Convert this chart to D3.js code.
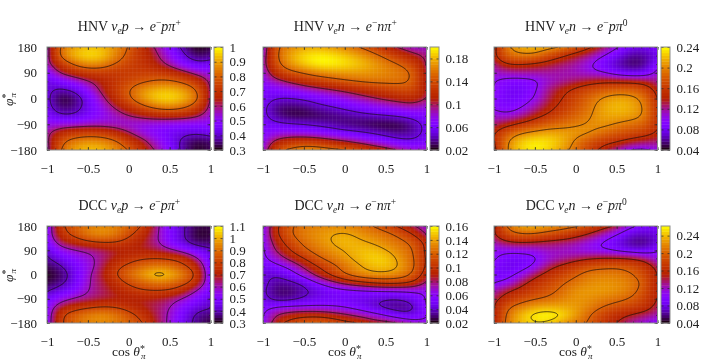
<!DOCTYPE html>
<html>
<head>
<meta charset="utf-8">
<script src="https://cdn.jsdelivr.net/npm/d3@7"></script>
<style>
	html, body { margin: 0; padding: 0; background: #fff; }
	#plot { position: relative; width: 720px; height: 360px; overflow: hidden; }
	canvas, svg { position: absolute; left: 0; top: 0; }
	text { font-family: "Liberation Serif", serif; fill: #222; }
</style>
</head>
<body>
<div id="plot">
	<canvas id="maps" width="720" height="360"></canvas>
	<svg id="over" width="720" height="360"></svg>
</div>
<script>

// grid of the values
const cos_theta = [ -1, -5/6, -4/6, -3/6, -2/6, -1/6, 0, 1/6, 2/6, 3/6, 4/6, 5/6, 1 ];
const phi_pi = [ 180, 150, 120, 90, 60, 30, 0, -30, -60, -90, -120, -150, -180 ];

const hnv_p_piplus = [
	[ .56, .83, .90, .94, .93, .87, .80, .68, .59, .48, .37, .30, .33 ],
	[ .56, .85, .94, .98, .96, .87, .77, .70, .62, .52, .41, .33, .36 ],
	[ .57, .70, .82, .88, .87, .79, .74, .70, .65, .57, .48, .42, .44 ],
	[ .48, .62, .68, .72, .72, .71, .72, .73, .73, .70, .64, .56, .52 ],
	[ .42, .46, .52, .59, .65, .71, .75, .78, .81, .82, .78, .71, .58 ],
	[ .42, .38, .41, .50, .63, .72, .80, .88, .93, .94, .90, .81, .60 ],
	[ .42, .31, .34, .43, .57, .69, .79, .89, .96, .98, .94, .85, .60 ],
	[ .43, .34, .36, .43, .52, .61, .69, .77, .84, .87, .83, .74, .57 ],
	[ .46, .40, .40, .45, .50, .55, .595, .63, .66, .67, .66, .62, .54 ],
	[ .52, .53, .54, .55, .55, .54, .53, .52, .51, .50, .49, .49, .50 ],
	[ .58, .68, .72, .74, .73, .68, .60, .52, .48, .44, .42, .41, .44 ],
	[ .58, .78, .86, .89, .88, .83, .73, .64, .54, .46, .37, .32, .34 ],
	[ .56, .82, .90, .94, .93, .87, .80, .68, .59, .48, .37, .31, .34 ]
];

const hnv_n_piplus = [
	[ .08, .15, .165, .175, .178, .172, .163, .151, .135, .115, .096, .082, .085 ],
	[ .085, .152, .177, .193, .199, .196, .187, .175, .161, .144, .125, .107, .095 ],
	[ .09, .145, .172, .188, .2, .2, .195, .187, .176, .163, .152, .135, .098 ],
	[ .08, .125, .142, .153, .165, .170, .172, .172, .170, .165, .160, .152, .103 ],
	[ .075, .09, .105, .118, .128, .138, .147, .154, .158, .158, .157, .150, .105 ],
	[ .06, .065, .072, .082, .09, .097, .105, .114, .122, .13, .137, .14, .105 ],
	[ .06, .05, .048, .052, .06, .068, .078, .088, .097, .105, .112, .118, .10 ],
	[ .055, .033, .031, .033, .043, .048, .055, .063, .07, .077, .083, .088, .08 ],
	[ .055, .036, .026, .025, .028, .032, .036, .041, .045, .048, .052, .059, .065 ],
	[ .06, .055, .052, .05, .045, .04, .034, .03, .025, .023, .025, .036, .056 ],
	[ .065, .075, .075, .072, .068, .062, .056, .052, .047, .04, .035, .04, .055 ],
	[ .075, .11, .125, .13, .125, .113, .102, .09, .078, .066, .055, .051, .06 ],
	[ .08, .14, .156, .168, .166, .158, .151, .14, .125, .113, .096, .082, .085 ]
];

const hnv_n_pizero = [
	[ .14, .20, .215, .22, .21, .197, .178, .155, .13, .103, .08, .075, .09 ],
	[ .145, .19, .198, .197, .172, .153, .135, .122, .10, .08, .058, .06, .075 ],
	[ .125, .151, .15, .143, .135, .125, .118, .102, .08, .065, .05, .053, .09 ],
	[ .11, .115, .118, .118, .118, .115, .112, .105, .10, .082, .072, .075, .108 ],
	[ .10, .09, .088, .093, .11, .118, .128, .137, .145, .145, .145, .14, .12 ],
	[ .10, .08, .08, .095, .125, .143, .158, .172, .18, .185, .185, .175, .14 ],
	[ .095, .08, .085, .10, .13, .15, .168, .187, .205, .215, .212, .195, .15 ],
	[ .095, .085, .097, .118, .14, .158, .175, .193, .213, .222, .217, .202, .155 ],
	[ .11, .105, .118, .138, .155, .17, .185, .198, .212, .215, .212, .202, .155 ],
	[ .125, .14, .155, .17, .183, .19, .197, .203, .207, .198, .19, .185, .153 ],
	[ .15, .18, .2, .208, .215, .212, .21, .205, .19, .18, .172, .165, .148 ],
	[ .15, .203, .228, .238, .233, .22, .195, .175, .16, .153, .14, .13, .125 ],
	[ .14, .205, .228, .238, .228, .21, .19, .165, .14, .12, .097, .095, .105 ]
];

const dcc_p_piplus = [
	[ .50, .79, .86, .92, .95, .93, .88, .80, .63, .49, .41, .33, .34 ],
	[ .52, .76, .84, .94, .97, .94, .83, .74, .62, .50, .41, .31, .33 ],
	[ .49, .67, .72, .78, .81, .80, .75, .69, .62, .50, .41, .34, .35 ],
	[ .42, .55, .59, .61, .64, .68, .70, .69, .67, .62, .55, .46, .42 ],
	[ .39, .45, .52, .57, .63, .70, .75, .785, .80, .79, .75, .62, .45 ],
	[ .34, .385, .47, .55, .65, .77, .83, .90, .93, .92, .83, .73, .48 ],
	[ .31, .34, .44, .58, .68, .80, .90, .98, 1.065, 1.03, .94, .79, .50 ],
	[ .33, .37, .45, .595, .66, .74, .82, .88, .92, .91, .85, .74, .50 ],
	[ .39, .44, .50, .60, .65, .70, .75, .79, .80, .79, .72, .59, .47 ],
	[ .46, .55, .61, .63, .66, .68, .69, .69, .68, .65, .59, .50, .43 ],
	[ .51, .68, .73, .77, .80, .79, .74, .69, .65, .61, .50, .44, .41 ],
	[ .52, .79, .88, .94, .97, .93, .85, .76, .66, .59, .47, .37, .36 ],
	[ .52, .80, .88, .93, .95, .92, .88, .81, .68, .58, .45, .37, .33 ]
];

const dcc_n_piplus = [
	[ .06, .099, .118, .127, .131, .133, .132, .128, .121, .11, .097, .082, .068 ],
	[ .062, .10, .12, .13, .136, .14, .143, .137, .131, .126, .116, .10, .078 ],
	[ .06, .09, .11, .125, .133, .141, .147, .143, .139, .132, .126, .117, .095 ],
	[ .058, .083, .10, .117, .128, .135, .141, .146, .148, .141, .131, .122, .096 ],
	[ .056, .07, .086, .10, .117, .128, .137, .145, .152, .151, .137, .123, .098 ],
	[ .05, .054, .065, .083, .10, .113, .127, .138, .146, .149, .141, .124, .098 ],
	[ .042, .041, .05, .068, .087, .105, .122, .133, .138, .138, .133, .12, .09 ],
	[ .045, .033, .036, .042, .06, .073, .086, .096, .103, .107, .107, .10, .078 ],
	[ .042, .029, .029, .036, .042, .05, .053, .055, .057, .059, .060, .062, .062 ],
	[ .045, .031, .033, .04, .047, .049, .049, .046, .044, .04, .04, .047, .062 ],
	[ .053, .06, .062, .062, .061, .06, .057, .05, .041, .033, .029, .034, .06 ],
	[ .06, .082, .09, .094, .095, .09, .083, .076, .068, .058, .047, .042, .058 ],
	[ .06, .092, .108, .118, .12, .115, .105, .10, .09, .086, .079, .07, .065 ]
];

const dcc_n_pizero = [
	[ .145, .21, .23, .235, .225, .215, .205, .185, .165, .145, .105, .09, .09 ],
	[ .15, .19, .203, .202, .188, .18, .165, .148, .125, .10, .075, .07, .08 ],
	[ .125, .148, .152, .147, .14, .135, .128, .112, .095, .08, .06, .053, .075 ],
	[ .107, .105, .107, .11, .122, .118, .112, .103, .10, .09, .08, .075, .10 ],
	[ .103, .088, .087, .093, .115, .125, .135, .147, .152, .153, .152, .138, .11 ],
	[ .095, .08, .085, .102, .14, .157, .175, .19, .195, .198, .19, .175, .14 ],
	[ .09, .087, .108, .14, .163, .18, .197, .213, .215, .215, .205, .185, .15 ],
	[ .095, .105, .14, .165, .182, .197, .21, .22, .225, .222, .215, .197, .152 ],
	[ .125, .148, .162, .178, .192, .205, .225, .228, .228, .224, .213, .19, .152 ],
	[ .14, .165, .185, .196, .203, .215, .225, .222, .215, .208, .20, .18, .15 ],
	[ .15, .198, .215, .232, .235, .233, .228, .217, .20, .19, .18, .17, .14 ],
	[ .15, .21, .243, .26, .266, .255, .23, .20, .18, .16, .148, .138, .125 ],
	[ .15, .215, .24, .25, .247, .23, .21, .198, .17, .15, .13, .115, .10 ]
];

const x_ticks = [ -1, -0.5, 0, 0.5, 1 ];
const y_ticks = [ 180, 90, 0, -90, -180 ];

const nu = [ "ν", "it" ], sub_e = [ "e", "sub" ], arrow = [ " → ", "" ], ele = [ "e", "it" ], minus = [ "−", "sup" ];
const pp = [ "p", "it" ], nn = [ "n", "it" ], pi = [ "π", "it" ], plus = [ "+", "sup" ], zero = [ "0", "sup" ];

const panels = [
	{ grid: hnv_p_piplus, col: 0, row: 0, z: [ 0.3, 1 ], bar_ticks: [ 0.3, 0.4, 0.5, 0.6, 0.7, 0.8, 0.9, 1 ], levels: [ 0.4, 0.6, 0.8 ],
		title: [ [ "HNV ", "" ], nu, sub_e, pp, arrow, ele, minus, pp, pi, plus ] },
	{ grid: hnv_n_piplus, col: 1, row: 0, z: [ 0.02, 0.2 ], bar_ticks: [ 0.02, 0.06, 0.1, 0.14, 0.18 ], levels: [ 0.05, 0.1, 0.15 ],
		title: [ [ "HNV ", "" ], nu, sub_e, nn, arrow, ele, minus, nn, pi, plus ] },
	{ grid: hnv_n_pizero, col: 2, row: 0, z: [ 0.04, 0.24 ], bar_ticks: [ 0.04, 0.08, 0.12, 0.16, 0.2, 0.24 ], levels: [ 0.1, 0.15, 0.2 ],
		title: [ [ "HNV ", "" ], nu, sub_e, nn, arrow, ele, minus, pp, pi, zero ] },
	{ grid: dcc_p_piplus, col: 0, row: 1, z: [ 0.3, 1.1 ], bar_ticks: [ 0.3, 0.4, 0.5, 0.6, 0.7, 0.8, 0.9, 1, 1.1 ], levels: [ 0.4, 0.6, 0.8, 1 ],
		title: [ [ "DCC ", "" ], nu, sub_e, pp, arrow, ele, minus, pp, pi, plus ] },
	{ grid: dcc_n_piplus, col: 1, row: 1, z: [ 0.02, 0.16 ], bar_ticks: [ 0.02, 0.04, 0.06, 0.08, 0.1, 0.12, 0.14, 0.16 ], levels: [ 0.04, 0.06, 0.08, 0.1, 0.12, 0.14 ],
		title: [ [ "DCC ", "" ], nu, sub_e, nn, arrow, ele, minus, nn, pi, plus ] },
	{ grid: dcc_n_pizero, col: 2, row: 1, z: [ 0.04, 0.262 ], bar_ticks: [ 0.04, 0.08, 0.12, 0.16, 0.2, 0.24 ], levels: [ 0.1, 0.15, 0.2, 0.25 ],
		title: [ [ "DCC ", "" ], nu, sub_e, nn, arrow, ele, minus, pp, pi, zero ] }
];

///////////////////////////////////////////////////////////////////////

const col_left = [ 47, 263, 494 ];
const row_top = [ 47, 226 ];
const row_height = [ 103, 97 ];
const map_width = 163.5;
const tick_font = 13;

const svg = d3.select( "#over" );
const ctx = document.getElementById( "maps" ).getContext( "2d" );

function palette( t )	{

	// gnuplot rgbformulae 7,5,15
	t = Math.max( 0, Math.min( 1, t ) );
	let r = Math.sqrt( t );
	let g = t * t * t;
	let b = Math.max( 0, Math.sin( 2 * Math.PI * t ) );
	return( d3.rgb( 255 * r, 255 * g, 255 * b ).formatRgb() );
}

// cubic b-spline, steadier than a spline through every hand read value
function spline( a, b, c, d, t )	{
	let s = 1 - t;
	return( ( s * s * s * a + ( 3 * t * t * t - 6 * t * t + 4 ) * b + ( -3 * t * t * t + 3 * t * t + 3 * t + 1 ) * c + t * t * t * d ) / 6 );
}

function pick( list, k )	{
	let n = list.length - 1;
	if( k < 0 ) return( 2 * list[ 0 ] - list[ 1 ] );
	if( k > n ) return( 2 * list[ n ] - list[ n - 1 ] );
	return( list[ k ] );
}

// smooth shading between the grid values, like pm3d interpolate
function shade( grid, c, phi )	{

	let u = Math.max( 0, Math.min( 11.9999, ( c + 1 ) * 6 ) );
	let v = Math.max( 0, Math.min( 11.9999, ( 180 - phi ) / 30 ) );
	let i = Math.floor( u ), j = Math.floor( v );
	let column = [ -1, 0, 1, 2 ].map( di => grid.map( line => pick( line, i + di ) ) );
	let rows = column.map( list => spline( pick( list, j - 1 ), pick( list, j ), pick( list, j + 1 ), pick( list, j + 2 ), v - j ) );
	return( spline( rows[ 0 ], rows[ 1 ], rows[ 2 ], rows[ 3 ], u - i ) );
}

function label_format( d )	{
	return( String( d ).replace( "-", "\u2212" ) );
}

function add_ticks( g, axis_fn, scale, values, size, tx, ty )	{

	let axis = axis_fn( scale ).tickValues( values ).tickSize( size ).tickFormat( "" );
	let a = g.append( "g" ).attr( "transform", "translate(" + tx + "," + ty + ")" ).call( axis );
	a.select( ".domain" ).remove();
	a.selectAll( "line" ).attr( "stroke", "#222" ).attr( "stroke-width", 0.7 );
}

function draw_title( g, cx, y, parts )	{

	let t = g.append( "text" ).attr( "x", cx ).attr( "y", y ).attr( "text-anchor", "middle" ).attr( "font-size", 14 );
	let shift = 0;
	parts.forEach( p => {
		let s = t.append( "tspan" ).text( p[ 0 ] );
		let want = p[ 1 ] == "sub" ? 3 : p[ 1 ] == "sup" ? -5 : 0;
		s.attr( "dy", want - shift );
		shift = want;
		if( p[ 1 ] == "it" ) s.attr( "font-style", "italic" );
		if( p[ 1 ] == "sub" || p[ 1 ] == "sup" ) s.attr( "font-size", 9.5 );
		if( p[ 1 ] == "sub" ) s.attr( "font-style", "italic" );
	} );
}

function draw_panel( p, index )	{

	let left = col_left[ p.col ], top = row_top[ p.row ], h = row_height[ p.row ];
	let x = d3.scaleLinear().domain( [ -1, 1 ] ).range( [ left, left + map_width ] );
	let y = d3.scaleLinear().domain( [ -180, 180 ] ).range( [ top + h, top ] );
	let g = svg.append( "g" );

	// colour map
	for( let px = Math.floor( left ); px < left + map_width; px++ )	{
		for( let py = top; py < top + h; py++ )	{
			let v = shade( p.grid, x.invert( px + 0.5 ), y.invert( py + 0.5 ) );
			ctx.fillStyle = palette( ( v - p.z[ 0 ] ) / ( p.z[ 1 ] - p.z[ 0 ] ) );
			ctx.fillRect( px, py, 1, 1 );
		}
	}

	// pale seams between the pm3d quads
	g.append( "g" ).selectAll( "line" ).data( d3.range( 1, 40 ) ).join( "line" )
		.attr( "x1", d => x( -1 + d * 0.05 ) ).attr( "x2", d => x( -1 + d * 0.05 ) )
		.attr( "y1", top ).attr( "y2", top + h )
		.attr( "stroke", "#fff" ).attr( "stroke-opacity", 0.1 ).attr( "stroke-width", 0.6 );
	g.append( "g" ).selectAll( "line" ).data( d3.range( 1, 24 ) ).join( "line" )
		.attr( "y1", d => y( -180 + d * 15 ) ).attr( "y2", d => y( -180 + d * 15 ) )
		.attr( "x1", left ).attr( "x2", left + map_width )
		.attr( "stroke", "#fff" ).attr( "stroke-opacity", 0.1 ).attr( "stroke-width", 0.6 );

	// contour lines, grid runs a bit past the frame so the closing edge is clipped away
	let nx = 230, ny = 160, pad = 0.03;
	let fine_x = d3.scaleLinear().domain( [ 0.5, nx - 0.5 ] ).range( [ -1 - pad * 2, 1 + pad * 2 ] );
	let fine_y = d3.scaleLinear().domain( [ 0.5, ny - 0.5 ] ).range( [ 180 + pad * 360, -180 - pad * 360 ] );
	let values = new Float64Array( nx * ny );
	for( let j = 0; j < ny; j++ )	{
		for( let i = 0; i < nx; i++ )	{
			values[ j * nx + i ] = shade( p.grid, fine_x( i + 0.5 ), fine_y( j + 0.5 ) );
		}
	}
	let contours = d3.contours().size( [ nx, ny ] );
	let path = d3.geoPath( d3.geoTransform( {
		point: function( a, b )	{ this.stream.point( x( fine_x( a ) ), y( fine_y( b ) ) ); }
	} ) );
	let clip_id = "clip" + index;
	g.append( "clipPath" ).attr( "id", clip_id ).append( "rect" )
		.attr( "x", left ).attr( "y", top ).attr( "width", map_width ).attr( "height", h );
	g.append( "g" ).attr( "clip-path", "url(#" + clip_id + ")" )
		.selectAll( "path" ).data( p.levels ).join( "path" )
		.attr( "d", d => path( contours.contour( values, d ) ) )
		.attr( "fill", "none" ).attr( "stroke", "#1a1010" ).attr( "stroke-width", 0.75 );

	// ticks on all four sides
	let minor_x = d3.range( -10, 11 ).map( d => d / 10 );
	let minor_y = d3.range( -6, 7 ).map( d => d * 30 );
	add_ticks( g, d3.axisBottom, x, minor_x, -1.5, 0, top + h );
	add_ticks( g, d3.axisTop, x, minor_x, -1.5, 0, top );
	add_ticks( g, d3.axisBottom, x, x_ticks, -3, 0, top + h );
	add_ticks( g, d3.axisTop, x, x_ticks, -3, 0, top );
	add_ticks( g, d3.axisLeft, y, minor_y, -1.5, left, 0 );
	add_ticks( g, d3.axisRight, y, minor_y, -1.5, left + map_width, 0 );
	add_ticks( g, d3.axisLeft, y, y_ticks, -3, left, 0 );
	add_ticks( g, d3.axisRight, y, y_ticks, -3, left + map_width, 0 );

	g.append( "rect" ).attr( "x", left ).attr( "y", top ).attr( "width", map_width ).attr( "height", h )
		.attr( "fill", "none" ).attr( "stroke", "#8c8c8c" ).attr( "stroke-width", 1 );

	// tick labels
	let xa = g.append( "g" ).attr( "transform", "translate(0," + ( top + h ) + ")" )
		.call( d3.axisBottom( x ).tickValues( x_ticks ).tickSize( 0 ).tickPadding( 14 ).tickFormat( label_format ) );
	xa.select( ".domain" ).remove();
	xa.selectAll( "text" ).attr( "font-size", tick_font );
	if( p.col == 0 )	{
		let ya = g.append( "g" ).attr( "transform", "translate(" + left + ",0)" )
			.call( d3.axisLeft( y ).tickValues( y_ticks ).tickSize( 0 ).tickPadding( 10 ).tickFormat( label_format ) );
		ya.select( ".domain" ).remove();
		ya.selectAll( "text" ).attr( "font-size", tick_font );
		let cy = top + h / 2;
		let yl = g.append( "text" ).attr( "transform", "translate(13," + ( cy + 1 ) + ") rotate(-90)" )
			.attr( "text-anchor", "middle" ).attr( "font-size", 13.5 );
		yl.append( "tspan" ).text( "φ" ).attr( "font-style", "italic" );
		yl.append( "tspan" ).text( "*" ).attr( "font-size", 10 ).attr( "dy", -4 );
		yl.append( "tspan" ).text( "π" ).attr( "font-size", 9 ).attr( "font-style", "italic" ).attr( "dy", 7 ).attr( "dx", -4 );
	}
	if( p.row == 1 )	{
		let xl = g.append( "text" ).attr( "x", left + map_width / 2 ).attr( "y", top + h + 33 )
			.attr( "text-anchor", "middle" ).attr( "font-size", 13.5 );
		xl.append( "tspan" ).text( "cos " );
		xl.append( "tspan" ).text( "θ" ).attr( "font-style", "italic" );
		xl.append( "tspan" ).text( "*" ).attr( "font-size", 10 ).attr( "dy", -4 );
		xl.append( "tspan" ).text( "π" ).attr( "font-size", 9 ).attr( "font-style", "italic" ).attr( "dy", 7 ).attr( "dx", -4 );
	}

	draw_title( g, left + map_width / 2 + 0.5, top - 16, p.title );

	// colour bar
	let bar_left = left + map_width + 3.5, bar_w = 9;
	let bar = d3.scaleLinear().domain( p.z ).range( [ top + h, top ] );
	let steps = d3.range( 36 );
	g.append( "g" ).selectAll( "rect" ).data( steps ).join( "rect" )
		.attr( "x", bar_left ).attr( "width", bar_w )
		.attr( "y", d => top + h - ( d + 1 ) * h / 36 )
		.attr( "height", h / 36 + 0.4 )
		.attr( "fill", d => palette( ( d + 0.5 ) / 36 ) );
	add_ticks( g, d3.axisLeft, bar, p.bar_ticks, -2.5, bar_left, 0 );
	add_ticks( g, d3.axisRight, bar, p.bar_ticks, -2.5, bar_left + bar_w, 0 );
	g.append( "rect" ).attr( "x", bar_left ).attr( "y", top ).attr( "width", bar_w ).attr( "height", h )
		.attr( "fill", "none" ).attr( "stroke", "#8c8c8c" ).attr( "stroke-width", 1 );
	let ba = g.append( "g" ).attr( "transform", "translate(" + ( bar_left + bar_w ) + ",0)" )
		.call( d3.axisRight( bar ).tickValues( p.bar_ticks ).tickSize( 0 ).tickPadding( 6.5 ).tickFormat( label_format ) );
	ba.select( ".domain" ).remove();
	ba.selectAll( "text" ).attr( "font-size", tick_font );
}

panels.forEach( draw_panel );

svg.selectAll( ".tick text" ).attr( "fill", "#222" );
svg.selectAll( "g[font-family]" ).attr( "font-family", null );

</script>
</body>
</html>
